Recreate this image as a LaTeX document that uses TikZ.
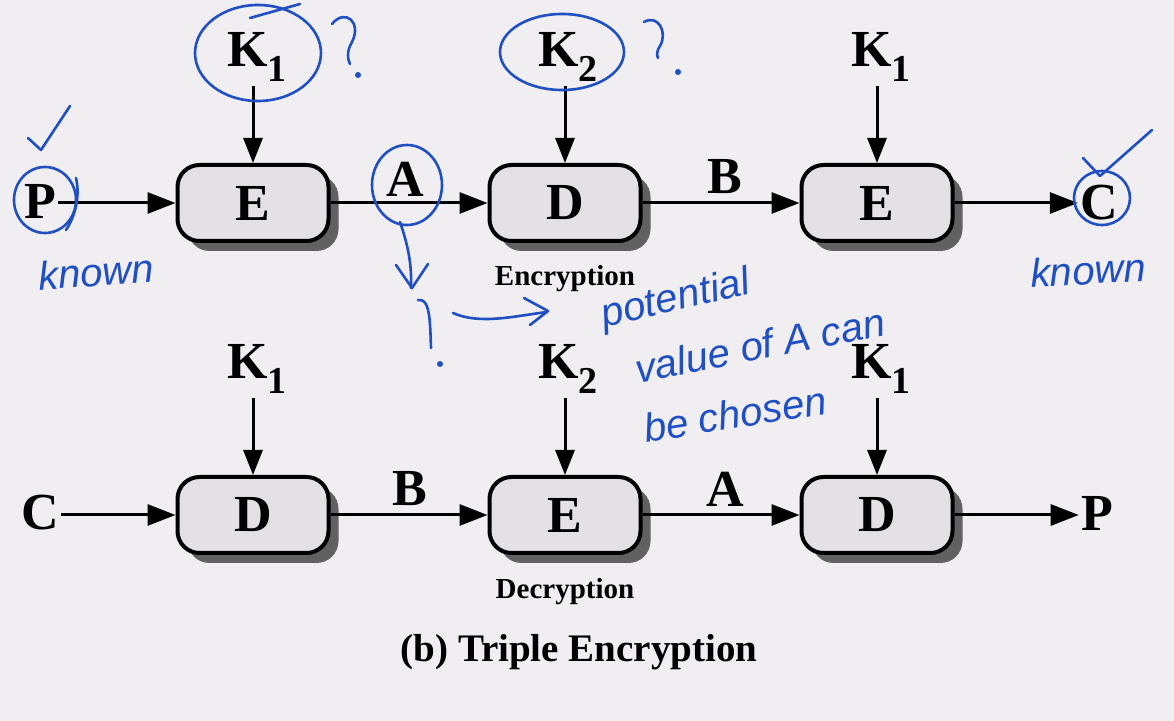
\documentclass[tikz,border=0pt]{standalone}
\usepackage{fontspec}
\setmainfont{Liberation Serif}
\newfontfamily\hand{Liberation Sans}
\usetikzlibrary{arrows.meta,shadows}
\definecolor{paper}{HTML}{F0EEF1}
\definecolor{boxfill}{HTML}{E3E1E4}
\definecolor{ink}{HTML}{1F4FC2}
\newcommand{\Ksub}[1]{K\raisebox{-0.28em}{\fontsize{19}{19}\selectfont #1}}
\begin{document}
\begin{tikzpicture}[x=0.5pt,y=-0.5pt,
  blk/.style={draw=black, line width=2pt, fill=boxfill, rounded corners=11pt,
    minimum width=75.5pt, minimum height=38pt, inner sep=0pt,
    font=\bfseries\fontsize{26}{26}\selectfont,
    drop shadow={shadow xshift=5pt, shadow yshift=-5pt, fill=black!62, opacity=1}},
  lbl/.style={inner sep=1pt, font=\bfseries\fontsize{26}{26}\selectfont},
  captxt/.style={inner sep=0pt, font=\bfseries\fontsize{14.5}{14.5}\selectfont},
  arr/.style={line width=1.5pt, -{Triangle[length=14pt,width=10.5pt]}},
  karr/.style={line width=1.5pt, -{Triangle[length=12.5pt,width=9.5pt]}},
  pen/.style={draw=ink, line width=1.3pt, line cap=round, line join=round},
  hw/.style={text=ink, inner sep=0pt, font=\hand\itshape\fontsize{20}{20}\selectfont}
]
\fill[paper] (0,0) rectangle (1174,721);
\useasboundingbox (0,0) rectangle (1174,721);

% ---------- Encryption row ----------
\node[blk] (E1) at (253,203) {E};
\node[blk] (D1) at (565,203) {D};
\node[blk] (E2) at (877,203) {E};
\node[lbl] (P1) at (40,201) {P};
\node[lbl] (C1) at (1099,203) {C};
\node[lbl] (A1) at (405,179) {A};
\node[lbl] (B1) at (725,177) {B};
\node[lbl] (K1a) at (257,57) {\Ksub{1}};
\node[lbl] (K2a) at (568,57) {\Ksub{2}};
\node[lbl] (K1b) at (881,57) {\Ksub{1}};
\coordinate (ta) at (253,86);
\coordinate (tb) at (565,86);
\coordinate (tc) at (877,86);
\draw[karr] (ta) -- (E1.north);
\draw[karr] (tb) -- (D1.north);
\draw[karr] (tc) -- (E2.north);
\draw[arr] (P1.east |- E1.west) -- (E1.west);
\draw[arr] (E1.east) -- (D1.west);
\draw[arr] (D1.east) -- (E2.west);
\draw[arr] (E2.east) -- (C1.west |- E2.east);
\node[captxt] (enc) at (565,279) {Encryption};

% ---------- Decryption row ----------
\node[blk] (D2) at (253,515) {D};
\node[blk] (E3) at (565,515) {E};
\node[blk] (D3) at (877,515) {D};
\node[lbl] (C2) at (40,513) {C};
\node[lbl] (P2) at (1097,513) {P};
\node[lbl] (B2) at (410,489) {B};
\node[lbl] (A2) at (725,489) {A};
\node[lbl] (K1c) at (257,369) {\Ksub{1}};
\node[lbl] (K2b) at (568,369) {\Ksub{2}};
\node[lbl] (K1d) at (881,369) {\Ksub{1}};
\coordinate (ba) at (253,398);
\coordinate (bb) at (565,398);
\coordinate (bc) at (877,398);
\draw[karr] (ba) -- (D2.north);
\draw[karr] (bb) -- (E3.north);
\draw[karr] (bc) -- (D3.north);
\draw[arr] (C2.east |- D2.west) -- (D2.west);
\draw[arr] (D2.east) -- (E3.west);
\draw[arr] (E3.east) -- (D3.west);
\draw[arr] (D3.east) -- (P2.west |- D3.east);
\node[captxt] (dec) at (565,592) {Decryption};
\node[inner sep=0pt, font=\bfseries\fontsize{19.5}{19.5}\selectfont] (title) at (579,652) {(b) Triple Encryption};

% ---------- handwritten annotations ----------
\draw[pen] (258,53) ellipse [x radius=63, y radius=48];
\draw[pen] (250,18) -- (300,4);
\draw[pen] (332,24) .. controls (345,8) and (362,22) .. (352,42) .. controls (346,52) and (348,60) .. (350,64);
\fill[ink] (358,75) circle (3);
\draw[pen] (562,52) ellipse [x radius=62, y radius=38];
\draw[pen] (644,22) .. controls (658,14) and (668,32) .. (660,46) .. controls (656,52) and (657,56) .. (658,58);
\fill[ink] (678,72) circle (3);
\draw[pen] (28,138) -- (41,150) -- (70,106);
\draw[pen] (45,200) ellipse [x radius=31, y radius=33];
\draw[pen] (76,178) .. controls (80,195) and (76,215) .. (66,230);
\node[hw, rotate=4] (kn1) at (96,272) {known};
\draw[pen] (407,185) ellipse [x radius=35, y radius=40];
\draw[pen] (400,222) .. controls (408,245) and (412,265) .. (411,288);
\draw[pen] (396,265) -- (412,288) -- (428,264);
\draw[pen] (418,300) .. controls (430,298) and (430,320) .. (431,348);
\fill[ink] (440,364) circle (3);
\draw[pen] (453,313) .. controls (480,325) and (515,316) .. (547,312);
\draw[pen] (524,298) -- (548,311) -- (530,325);
\node[hw, rotate=13] (pot) at (676,300) {potential};
\node[hw, rotate=11] (val) at (760,345) {value of A can};
\node[hw, rotate=9] (cho) at (735,414) {be chosen};
\draw[pen] (1083,158) -- (1100,176) -- (1152,130);
\draw[pen] (1102,198) ellipse [x radius=28, y radius=27];
\node[hw, rotate=3] (kn2) at (1088,270) {known};
\end{tikzpicture}
\end{document}
